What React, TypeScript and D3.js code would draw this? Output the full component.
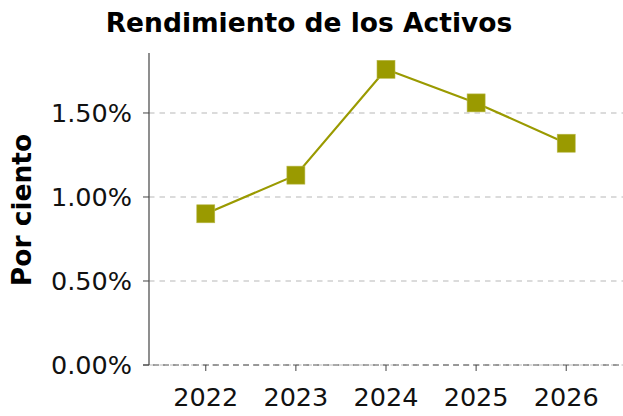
import React from "react";
import * as d3 from "d3";

const years = [2022, 2023, 2024, 2025, 2026];
const values = [0.90, 1.13, 1.76, 1.56, 1.32];
const yTicks = [0, 0.5, 1.0, 1.5];
const title = "Rendimiento de los Activos";
const yLabel = "Por ciento";

const W = 623;
const H = 416;
const left = 149;
const right = 623;
const top = 53;
const bottom = 365;
const color = "#9a9a00";
const font = "'DejaVu Sans', sans-serif";

export default function App() {
  const x = d3.scaleLinear().domain([2021.37, 2026.63]).range([left, right]);
  const y = d3.scaleLinear().domain([0, 1.857]).range([bottom, top]);
  const line = d3
    .line<number>()
    .x((_, i) => x(years[i]))
    .y((d) => y(d));
  const fmt = (v: number) => v.toFixed(2) + "%";
  const ms = 18;
  return (
    <svg
      width={W}
      height={H}
      style={{ position: "absolute", left: 0, top: 0, background: "#fff" }}
      fontFamily={font}
    >
      <rect width={W} height={H} fill="#fff" />
      {yTicks.map((t) => (
        <line
          key={"g" + t}
          x1={left}
          x2={right}
          y1={y(t)}
          y2={y(t)}
          stroke="#cfcfcf"
          strokeWidth={1.5}
          strokeDasharray="5.5,5"
        />
      ))}
      <line
        x1={left - 6}
        x2={right}
        y1={y(0)}
        y2={y(0)}
        stroke="#555"
        strokeWidth={1}
        strokeDasharray="6,4"
      />
      <line x1={left} x2={left} y1={top} y2={bottom} stroke="#444" strokeWidth={1.2} />
      {yTicks.map((t) => (
        <g key={"yt" + t}>
          <line x1={left - 6} x2={left} y1={y(t)} y2={y(t)} stroke="#444" strokeWidth={1} />
          <text
            x={left - 17}
            y={y(t)}
            dy="0.36em"
            textAnchor="end"
            fontSize={25.5}
            fill="#111"
          >
            {fmt(t)}
          </text>
        </g>
      ))}
      {years.map((yr) => (
        <g key={"xt" + yr}>
          <line x1={x(yr)} x2={x(yr)} y1={bottom} y2={bottom + 6} stroke="#444" strokeWidth={1} />
          <text x={x(yr)} y={406} textAnchor="middle" fontSize={25.5} fill="#111">
            {yr}
          </text>
        </g>
      ))}
      <path d={line(values) || ""} fill="none" stroke={color} strokeWidth={2.2} />
      {values.map((v, i) => (
        <rect
          key={"m" + i}
          x={x(years[i]) - ms / 2}
          y={y(v) - ms / 2}
          width={ms}
          height={ms}
          fill={color}
          stroke="#b8b84a"
          strokeWidth={0.6}
        />
      ))}
      <text
        x={309}
        y={32}
        textAnchor="middle"
        fontSize={26.5}
        fontWeight="bold"
        fill="#000"
      >
        {title}
      </text>
      <text
        transform={`translate(31,210) rotate(-90)`}
        textAnchor="middle"
        fontSize={26.5}
        fontWeight="bold"
        fill="#000"
      >
        {yLabel}
      </text>
    </svg>
  );
}
